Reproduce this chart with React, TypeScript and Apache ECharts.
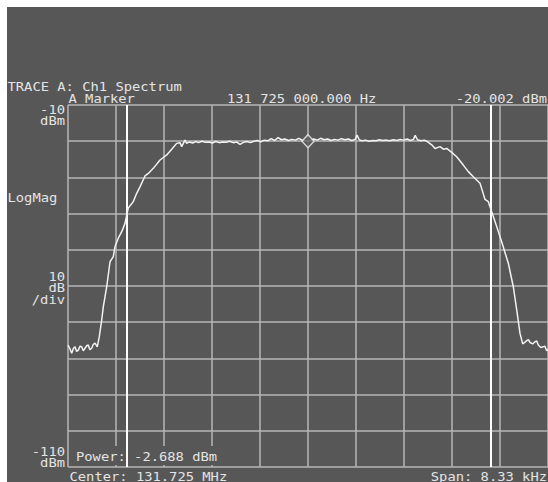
import React, { useEffect, useRef } from "react";
import * as echarts from "echarts";

// ---- axes (frequency offset from centre in Hz, level in dBm) ----
const X_MIN = -4165;
const X_MAX = 4165;
const X_STEP = 833; // 8.33 kHz span / 10 div
const Y_MIN = -110;
const Y_MAX = -10;
const Y_STEP = 10;

const channelEdgesHz = [-3150, 3165];
const markerPoint: [number, number] = [0, -20.0];

// ---- trace: [offset Hz, dBm] ----
const leftSkirt: [number, number][] = [
  [-4165, -76.3], [-4130, -77.4], [-4101, -78.6], [-4070, -77.2], [-4044, -76.8], [-4015, -78.1],
  [-3986, -77.7], [-3955, -76.6], [-3927, -76.8], [-3900, -77.9], [-3870, -77.2], [-3840, -76.5],
  [-3813, -76.3], [-3785, -77.6], [-3754, -77.2], [-3725, -76.1], [-3696, -75.8], [-3657, -76.8],
  [-3622, -74.0], [-3580, -69.4], [-3552, -65.7], [-3493, -60.2], [-3436, -53.3], [-3379, -51.9],
  [-3349, -49.1], [-3292, -46.8], [-3233, -45.0], [-3176, -42.7], [-3146, -40.4], [-3119, -38.5],
  [-3077, -37.6], [-3032, -36.7], [-2973, -34.4], [-2916, -32.6], [-2829, -29.6], [-2771, -28.9],
  [-2685, -27.5], [-2568, -25.2], [-2511, -24.5], [-2452, -23.8], [-2365, -22.2], [-2279, -20.6],
  [-2221, -20.4], [-2192, -21.5], [-2135, -19.7], [-2105, -20.6],
];

const passband: [number, number][] = [
  [-2060, -20.2], [-2000, -20.5], [-1950, -20.1], [-1900, -20.4], [-1840, -20.0], [-1780, -20.3],
  [-1720, -20.2], [-1660, -20.5], [-1600, -20.1], [-1540, -20.4], [-1480, -20.2], [-1420, -20.3],
  [-1360, -20.0], [-1300, -20.4], [-1240, -20.2], [-1180, -20.9], [-1120, -20.3], [-1060, -20.1],
  [-1000, -20.4], [-940, -20.0], [-880, -19.8], [-820, -20.2], [-760, -19.7], [-700, -19.9],
  [-640, -19.3], [-580, -19.8], [-520, -19.0], [-460, -19.6], [-400, -19.4], [-340, -19.8],
  [-280, -19.5], [-220, -19.7], [-160, -19.2], [-100, -19.7], [-40, -19.9], [0, -20.0],
  [40, -19.8], [100, -19.4], [160, -19.7], [220, -19.2], [280, -19.6], [340, -19.4],
  [400, -19.8], [460, -19.5], [520, -19.7], [580, -19.3], [640, -19.6], [700, -19.4],
  [760, -19.8], [820, -19.5], [850, -18.3], [890, -19.6], [940, -19.9], [1000, -19.7],
  [1060, -20.0], [1120, -19.8], [1180, -19.9], [1240, -19.6], [1300, -19.8], [1360, -19.7],
  [1420, -19.9], [1480, -19.6], [1540, -19.8], [1600, -19.5], [1660, -19.7], [1720, -19.4],
  [1780, -19.8], [1830, -19.5], [1860, -18.4], [1900, -19.6], [1960, -19.9], [2020, -19.7],
  [2060, -20.0],
];

const rightSkirt: [number, number][] = [
  [2147, -21.0], [2204, -22.0], [2291, -21.5], [2350, -22.2], [2407, -22.0], [2494, -23.1],
  [2580, -24.3], [2695, -26.6], [2782, -28.4], [2869, -29.8], [2985, -31.6], [3032, -34.0],
  [3072, -36.1], [3129, -36.7], [3188, -39.5], [3275, -43.6], [3361, -47.8], [3476, -53.7],
  [3563, -60.2], [3622, -66.6], [3679, -73.1], [3726, -76.0], [3760, -75.6], [3795, -75.1],
  [3825, -74.8], [3853, -75.6], [3900, -76.0], [3939, -75.4], [3970, -75.2], [3997, -76.3],
  [4040, -77.0], [4083, -76.8], [4110, -76.6], [4142, -77.9], [4165, -77.5],
];

// ---- annotation texts ----
const titleText = "TRACE A: Ch1 Spectrum";
const markerLabel = "A Marker";
const markerFreqText = "131 725 000.000 Hz";
const markerLevelText = "-20.002 dBm";
const topRefLabel = ["-10", "dBm"];
const scaleModeLabel = "LogMag";
const scaleDivLabel = ["10", "dB", "/div"];
const bottomRefLabel = ["-110", "dBm"];
const powerText = "Power: -2.688 dBm";
const centerText = "Center: 131.725 MHz";
const spanText = "Span: 8.33 kHz";

const BG = "#575757";
const GRID = "#b6b6b6";
const TEXT = "#e4e4e4";
const FONT = '"DejaVu Sans Mono", "Liberation Mono", monospace';

function txt(text: string, x: number, y: number, align: "left" | "right" = "left") {
  return {
    type: "text",
    x,
    y,
    scaleX: 1.2,
    z: 20,
    silent: true,
    style: {
      text,
      fill: TEXT,
      font: `11.5px ${FONT}`,
      textAlign: align,
      textVerticalAlign: "middle",
      align,
      verticalAlign: "middle",
    },
  };
}

export default function App() {
  const ref = useRef<HTMLDivElement>(null);

  useEffect(() => {
    if (!ref.current) return;
    const chart = echarts.init(ref.current, undefined, { renderer: "svg" });
    const trace = [...leftSkirt, ...passband, ...rightSkirt];

    chart.setOption({
      animation: false,
      backgroundColor: "#ffffff",
      grid: { left: 68, top: 105, width: 480, height: 362, containLabel: false },
      xAxis: {
        type: "value",
        min: X_MIN,
        max: X_MAX,
        interval: X_STEP,
        axisLine: { show: false },
        axisTick: { show: false },
        axisLabel: { show: false },
        splitLine: { show: true, lineStyle: { color: GRID, width: 1.5 } },
      },
      yAxis: {
        type: "value",
        min: Y_MIN,
        max: Y_MAX,
        interval: Y_STEP,
        axisLine: { show: false },
        axisTick: { show: false },
        axisLabel: { show: false },
        splitLine: { show: true, lineStyle: { color: GRID, width: 1.5 } },
      },
      graphic: {
        elements: [
          { type: "rect", z: -100, silent: true, shape: { x: 7, y: 7, width: 541, height: 475 }, style: { fill: BG } },
          { type: "rect", z: 1, silent: true, shape: { x: 73, y: 446, width: 150, height: 19 }, style: { fill: BG } },
          txt(titleText, 7.5, 87),
          txt(markerLabel, 68.5, 98.5),
          txt(markerFreqText, 227, 98.5),
          txt(markerLevelText, 547, 98.5, "right"),
          txt(topRefLabel[0], 65, 110, "right"),
          txt(topRefLabel[1], 65, 121, "right"),
          txt(scaleModeLabel, 7.5, 197.5),
          txt(scaleDivLabel[0], 65, 276.5, "right"),
          txt(scaleDivLabel[1], 65, 288, "right"),
          txt(scaleDivLabel[2], 65, 300, "right"),
          txt(bottomRefLabel[0], 65, 451.5, "right"),
          txt(bottomRefLabel[1], 65, 463, "right"),
          txt(powerText, 76, 457),
          txt(centerText, 69.5, 476.5),
          txt(spanText, 547, 476.5, "right"),
        ],
      },
      series: [
        {
          type: "line",
          data: trace,
          showSymbol: false,
          symbol: "none",
          z: 5,
          lineStyle: { color: "#f2f2f2", width: 1.5 },
          markLine: {
            silent: true,
            symbol: "none",
            label: { show: false },
            lineStyle: { color: "#ffffff", width: 2, type: "solid" },
            data: channelEdgesHz.map((v) => ({ xAxis: v })),
          },
        },
        {
          type: "scatter",
          data: [markerPoint],
          symbol: "diamond",
          symbolSize: [12, 13],
          z: 8,
          itemStyle: { color: BG, borderColor: "#f2f2f2", borderWidth: 1.5 },
        },
      ],
    });

    return () => chart.dispose();
  }, []);

  return (
    <div
      ref={ref}
      style={{ position: "fixed", left: 0, top: 0, width: 548, height: 482, background: "#ffffff" }}
    />
  );
}
